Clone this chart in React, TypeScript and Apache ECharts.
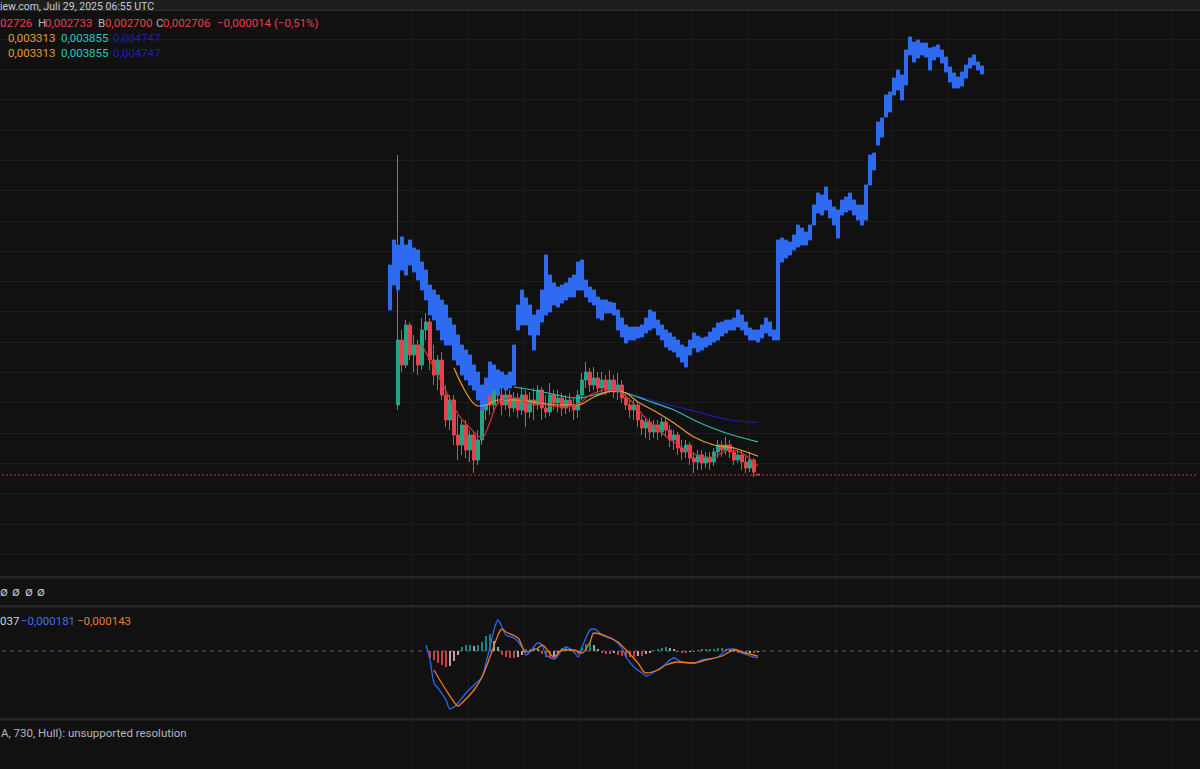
import React, { useEffect, useRef } from "react";
import * as echarts from "echarts";

// ---------- time slots (category axis) ----------
const slotCount = 300;
const slotLabels = Array.from({ length: slotCount }, (_, i) => `T${i}`);
const gridSlots = [103, 117, 131, 145, 159, 173, 187, 209, 223, 237, 251, 265, 279, 293];

// ---------- main symbol candles (log price scale) ----------
const candleStart = 99;
const candleOpen = [
  0.005724, 0.01147, 0.00878, 0.01347, 0.00977, 0.01088, 0.00878, 0.01277, 0.01391, 0.00926,
  0.007889, 0.00926, 0.00637, 0.004875, 0.006038, 0.004152, 0.00373, 0.004621, 0.003536, 0.004152,
  0.003177, 0.003935, 0.005425, 0.00637, 0.005724, 0.007889, 0.00637, 0.005724, 0.00637, 0.005543,
  0.006169, 0.005425, 0.00637, 0.00531, 0.006038, 0.005724, 0.00672, 0.005543, 0.00531, 0.00637,
  0.005848, 0.006169, 0.005543, 0.006038, 0.005724, 0.005425, 0.00637, 0.007479, 0.00815, 0.007089,
  0.00764, 0.006865, 0.007479, 0.00672, 0.007479, 0.006577, 0.007089, 0.006169, 0.005724, 0.005425,
  0.005724, 0.004875, 0.004474, 0.004771, 0.004287, 0.004621, 0.004287, 0.004771, 0.00438, 0.003935,
  0.004152, 0.003613, 0.003462, 0.00373, 0.003246, 0.00311, 0.003352, 0.003077, 0.003281, 0.00311,
  0.003462, 0.00373, 0.003536, 0.00373, 0.003462, 0.003177, 0.003352, 0.00311, 0.002917, 0.003177, 0.002726,
];
const candleClose = [
  0.01147, 0.00878, 0.01347, 0.00977, 0.01088, 0.00878, 0.01277, 0.01391, 0.00926, 0.007889,
  0.00926, 0.00637, 0.004875, 0.006038, 0.004152, 0.00373, 0.004621, 0.003536, 0.004152, 0.003177,
  0.003935, 0.005425, 0.00637, 0.005724, 0.007889, 0.00637, 0.005724, 0.00637, 0.005543, 0.006169,
  0.005425, 0.00637, 0.00531, 0.006038, 0.005724, 0.00672, 0.005543, 0.00531, 0.00637, 0.005848,
  0.006169, 0.005543, 0.006038, 0.005724, 0.005425, 0.00637, 0.007479, 0.00815, 0.007089, 0.00764,
  0.006865, 0.007479, 0.00672, 0.007479, 0.006577, 0.007089, 0.006169, 0.005724, 0.005425, 0.005724,
  0.004875, 0.004474, 0.004771, 0.004287, 0.004621, 0.004287, 0.004771, 0.00438, 0.003935, 0.004152,
  0.003613, 0.003462, 0.00373, 0.003246, 0.00311, 0.003352, 0.003077, 0.003281, 0.00311, 0.003462,
  0.00373, 0.003536, 0.00373, 0.003462, 0.003177, 0.003352, 0.00311, 0.002917, 0.003177, 0.002794, 0.002706,
];
const candleLow = [
  0.005425, 0.00815, 0.0085, 0.00926, 0.00815, 0.007889, 0.00832, 0.01147, 0.00832, 0.007089,
  0.00672, 0.006038, 0.004524, 0.00438, 0.00373, 0.003177, 0.003352, 0.003246, 0.00311, 0.002765,
  0.003012, 0.00373, 0.004875, 0.005143, 0.005425, 0.005724, 0.005143, 0.005425, 0.005035, 0.00531,
  0.00498, 0.005143, 0.004524, 0.00498, 0.004875, 0.005425, 0.004875, 0.00498, 0.005088, 0.005425,
  0.00531, 0.005088, 0.005198, 0.00531, 0.004875, 0.00498, 0.006038, 0.006865, 0.006577, 0.00672,
  0.006508, 0.006577, 0.00637, 0.006508, 0.006169, 0.006038, 0.005848, 0.005425, 0.00498, 0.004875,
  0.004524, 0.004152, 0.004021, 0.003935, 0.004021, 0.003935, 0.004064, 0.004064, 0.003651, 0.003536,
  0.003352, 0.003177, 0.003246, 0.003012, 0.002765, 0.002855, 0.002855, 0.002917, 0.002855, 0.00298,
  0.003246, 0.003281, 0.003352, 0.003246, 0.003012, 0.003077, 0.002855, 0.002765, 0.002794, 0.002649, 0.0027,
];
const candleHigh = [
  0.08305, 0.01277, 0.01421, 0.01391, 0.0121, 0.01147, 0.01452, 0.01532, 0.01452, 0.01088,
  0.00977, 0.01009, 0.007089, 0.00637, 0.00637, 0.005143, 0.004875, 0.004875, 0.00438, 0.004287,
  0.00438, 0.005724, 0.007089, 0.007479, 0.0086, 0.00832, 0.006865, 0.007089, 0.00672, 0.006577,
  0.006508, 0.00694, 0.00672, 0.006577, 0.006865, 0.007089, 0.00694, 0.00637, 0.007242, 0.00672,
  0.00672, 0.006508, 0.00637, 0.006508, 0.006169, 0.00672, 0.00806, 0.00907, 0.0085, 0.0086,
  0.00815, 0.00815, 0.007889, 0.00832, 0.007889, 0.00806, 0.007479, 0.006508, 0.006169, 0.006038,
  0.00591, 0.005143, 0.00498, 0.00498, 0.004875, 0.004875, 0.005035, 0.00498, 0.004621, 0.00438,
  0.004287, 0.003935, 0.003935, 0.003852, 0.003462, 0.003536, 0.003536, 0.003462, 0.003462, 0.003613,
  0.003935, 0.003894, 0.004064, 0.003935, 0.003651, 0.003536, 0.003536, 0.003352, 0.003462, 0.003246, 0.002733,
];
const lastClose = 0.002706;

// ---------- moving averages [slot, price] ----------
const maRed = [
  [105, 0.01088], [108, 0.0085], [111, 0.00665], [114, 0.005198], [117, 0.004474], [120, 0.004021],
  [122, 0.004771], [124, 0.005848], [128, 0.006169], [132, 0.005848], [136, 0.005724], [140, 0.005604],
  [144, 0.005786], [147, 0.00637], [151, 0.00672], [154, 0.00665], [158, 0.005786], [161, 0.004929],
  [165, 0.004242], [169, 0.00373], [173, 0.003388], [177, 0.003246], [182, 0.003536], [185, 0.003425],
  [189, 0.00298],
];
const maOrange = [
  [113, 0.0085], [119, 0.005663], [121, 0.005724], [124, 0.006038], [129, 0.006038], [134, 0.005848],
  [139, 0.005724], [144, 0.005724], [148, 0.006236], [153, 0.00665], [156, 0.006508], [159, 0.00591],
  [164, 0.005255], [168, 0.004722], [173, 0.004064], [178, 0.00373], [183, 0.003613], [189, 0.003313],
];
const maTeal = [
  [128, 0.00694], [134, 0.00665], [141, 0.006236], [144, 0.006169], [148, 0.00637], [153, 0.00665],
  [156, 0.006508], [161, 0.006038], [168, 0.005425], [174, 0.004771], [181, 0.004242], [189, 0.003855],
];
const maNavy = [
  [156, 0.006508], [165, 0.005848], [174, 0.00531], [182, 0.004875], [189, 0.004747],
];

// ---------- comparison symbol (blue), own scale ----------
const blueStart = 97;
const blueLow = [
  0.534, 0.584, 0.574, 0.614, 0.604, 0.624, 0.61, 0.594, 0.574, 0.554,
  0.524, 0.514, 0.494, 0.474, 0.464, 0.464, 0.434, 0.424, 0.404, 0.394,
  0.384, 0.374, 0.354, 0.334, 0.344, 0.364, 0.374, 0.364, 0.378, 0.374,
  0.378, 0.384, 0.494, 0.504, 0.504, 0.484, 0.454, 0.484, 0.51, 0.524,
  0.53, 0.544, 0.54, 0.548, 0.554, 0.56, 0.56, 0.574, 0.574, 0.56,
  0.55, 0.544, 0.518, 0.514, 0.528, 0.528, 0.524, 0.494, 0.48, 0.468,
  0.474, 0.474, 0.478, 0.48, 0.488, 0.494, 0.498, 0.484, 0.474, 0.46,
  0.454, 0.45, 0.44, 0.43, 0.42, 0.444, 0.458, 0.45, 0.454, 0.46,
  0.464, 0.47, 0.474, 0.482, 0.488, 0.494, 0.494, 0.5, 0.494, 0.484,
  0.474, 0.474, 0.47, 0.478, 0.488, 0.482, 0.474, 0.474, 0.63, 0.638,
  0.644, 0.654, 0.66, 0.664, 0.664, 0.674, 0.704, 0.728, 0.724, 0.734,
  0.718, 0.704, 0.678, 0.724, 0.73, 0.734, 0.724, 0.714, 0.704, 0.714,
  0.784, 0.814, 0.864, 0.88, 0.92, 0.93, 0.964, 0.974, 0.954, 0.984,
  1.044, 1.03, 1.038, 1.044, 1.04, 1.014, 1.034, 1.04, 1.028, 1.01,
  0.99, 0.978, 0.978, 0.982, 0.998, 1.018, 1.024, 1.014, 1.006,
];
const blueHigh = [
  0.624, 0.674, 0.664, 0.68, 0.664, 0.674, 0.658, 0.654, 0.63, 0.614,
  0.584, 0.574, 0.564, 0.554, 0.544, 0.518, 0.504, 0.484, 0.464, 0.454,
  0.444, 0.424, 0.41, 0.384, 0.398, 0.43, 0.424, 0.414, 0.41, 0.404,
  0.41, 0.464, 0.544, 0.574, 0.558, 0.544, 0.524, 0.534, 0.574, 0.644,
  0.604, 0.588, 0.58, 0.584, 0.588, 0.598, 0.604, 0.63, 0.634, 0.594,
  0.58, 0.574, 0.56, 0.554, 0.554, 0.55, 0.548, 0.534, 0.518, 0.504,
  0.5, 0.5, 0.5, 0.504, 0.518, 0.534, 0.53, 0.514, 0.504, 0.494,
  0.488, 0.48, 0.474, 0.464, 0.46, 0.474, 0.488, 0.482, 0.478, 0.48,
  0.49, 0.498, 0.508, 0.51, 0.514, 0.514, 0.518, 0.534, 0.524, 0.51,
  0.498, 0.494, 0.494, 0.504, 0.518, 0.51, 0.494, 0.674, 0.678, 0.674,
  0.67, 0.684, 0.704, 0.698, 0.69, 0.704, 0.744, 0.768, 0.764, 0.78,
  0.754, 0.74, 0.734, 0.754, 0.76, 0.768, 0.754, 0.744, 0.744, 0.784,
  0.844, 0.848, 0.91, 0.918, 0.964, 0.97, 0.998, 1.014, 1.004, 1.054,
  1.08, 1.07, 1.074, 1.068, 1.068, 1.058, 1.06, 1.064, 1.054, 1.04,
  1.02, 1.008, 1.0, 1.01, 1.024, 1.038, 1.044, 1.03, 1.022,
];

// ---------- MACD pane ----------
const macdLine = [
  [106, 0.000167], [107, -0.00025], [108, -0.00089], [109, -0.001029], [111, -0.001362], [112, -0.001612],
  [113, -0.001557], [114, -0.001446], [116, -0.001168], [118, -0.000945], [120, -0.000723], [121, -0.000334],
  [122, 0.000111], [123, 0.000584], [124, 0.000862], [125, 0.000667], [126, 0.000445], [128, 0.000361],
  [130, 0.000111], [131, -0.000111], [132, -0.000028], [134, 0.000222], [135, 0.000167], [136, -0.000111],
  [138, -0.000222], [140, 0.000028], [141, 0.000111], [143, -0.000028], [144, -0.000167], [145, 0.000111],
  [147, 0.000584], [148, 0.000612], [150, 0.000445], [151, 0.000389], [153, 0.000306], [155, 0.000083],
  [156, -0.000167], [158, -0.000445], [160, -0.000612], [161, -0.000695], [163, -0.000584], [165, -0.000445],
  [168, -0.000195], [170, -0.000306], [173, -0.000334], [175, -0.00025], [179, -0.000167], [181, 0.000028],
  [183, 0.000056], [185, -0.000056], [188, -0.000167], [189, -0.000181],
];
const signalLine = [
  [108, -0.000528], [109, -0.000723], [111, -0.001084], [113, -0.001418], [114, -0.001529], [115, -0.001446],
  [118, -0.001084], [120, -0.000723], [122, -0.000167], [124, 0.000445], [125, 0.000612], [126, 0.000528],
  [129, 0.000361], [131, -0.000028], [134, 0.000083], [135, 0.000167], [138, -0.000167], [140, 0.000028],
  [143, 0.000028], [145, -0.000056], [147, 0.00025], [148, 0.0005], [151, 0.000417], [154, 0.00025],
  [156, 0.000028], [159, -0.000334], [161, -0.000612], [164, -0.000528], [166, -0.000389], [169, -0.000306],
  [173, -0.000334], [176, -0.00025], [180, -0.000139], [183, 0.000028], [186, -0.000056], [189, -0.000143],
];
const histStart = 107;
const histValues = [
  -0.000195, -0.00025, -0.000334, -0.000389, -0.000445, -0.000417, -0.000278, -0.000111, 0.000111, 0.000167,
  0.000167, 0.000139, 0.000167, 0.00025, 0.000417, 0.000473, 0.000278, 0.000111, -0.000111, -0.000167,
  -0.000195, -0.000195, -0.000167, -0.000111, 0.000056, 0.000056, 0.000083, 0.000056, -0.000083, -0.000167,
  -0.000195, -0.000139, -0.000056, 0.000083, 0.000111, 0.000056, -0.000056, -0.000083, 0.000083, 0.000195,
  0.00025, 0.000167, 0.000056, -0.000056, -0.000083, -0.000083, -0.000056, -0.000111, -0.000139, -0.000167,
  -0.000167, -0.000167, -0.000139, -0.000139, -0.000083, -0.000056, 0.000028, 0.000056, 0.000083, 0.000111,
  0.000083, 0.000056, -0.000028, -0.000056, -0.000056, -0.000028, -0.000028, 0.000028, 0.000056, 0.000056,
  0.000056, 0.000056, 0.000083, 0.000083, 0.000056, 0.000028, -0.000028, -0.000056, -0.000083, -0.000083,
  -0.000056, -0.000056, -0.000037,
];

const FONT = "Roboto, Inter, sans-serif";

function txt(text: string, x: number, y: number, fill: string, size = 11.5) {
  return {
    type: "text",
    x,
    y,
    z: 100,
    silent: true,
    style: { text, fill, font: `${size}px ${FONT}`, textVerticalAlign: "middle", verticalAlign: "middle" },
  };
}

export default function App() {
  const ref = useRef<HTMLDivElement>(null);

  useEffect(() => {
    if (!ref.current) return;
    const chart = echarts.init(ref.current, undefined, { renderer: "svg" });

    const candleData = candleOpen.map((o, k) => [candleStart + k, o, candleClose[k], candleLow[k], candleHigh[k]]);
    const blueData = blueLow.map((lo, k) => [blueStart + k, lo, blueHigh[k], lo, blueHigh[k]]);
    const histData = histValues.map((v, k) => [histStart + k, v]);
    // price line and zero line spanning the whole time range
    const priceLineData = [[0, lastClose], [slotCount - 1, lastClose]];
    const zeroLineData = [[0, 0], [slotCount - 1, 0]];

    const RED = "#e5414f";
    const GREEN = "#22a385";
    const BLUE = "#2e6af2";
    const gridLineColor = "#1d1d1d";

    const hiddenCat = (gridIndex: number) => ({
      type: "category",
      gridIndex,
      data: slotLabels,
      boundaryGap: true,
      show: false,
    });

    const option: any = {
      animation: false,
      backgroundColor: "#111111",
      grid: [
        { left: 0, right: 0, top: 11, height: 566 },
        { left: 0, right: 0, top: 39, height: 515.1 },
        { left: 0, right: 0, top: 608, height: 111 },
        { left: 0, right: 0, top: 11, bottom: 0 },
      ],
      xAxis: [
        hiddenCat(0),
        hiddenCat(1),
        hiddenCat(2),
        {
          type: "category",
          gridIndex: 3,
          data: slotLabels,
          boundaryGap: true,
          show: true,
          axisLine: { show: false },
          axisTick: { show: false },
          axisLabel: { show: false },
          splitLine: {
            show: true,
            interval: (index: number) => gridSlots.indexOf(index) >= 0,
            lineStyle: { color: gridLineColor, width: 1 },
          },
        },
      ],
      yAxis: [
        { type: "log", gridIndex: 0, min: 0.0009085, max: 0.3878, show: false },
        { type: "value", gridIndex: 0, min: 0, max: 1.132, show: false },
        {
          type: "value",
          gridIndex: 1,
          min: 0,
          max: 17,
          interval: 1,
          show: true,
          axisLine: { show: false },
          axisTick: { show: false },
          axisLabel: { show: false },
          splitLine: { show: true, lineStyle: { color: gridLineColor, width: 1 } },
        },
        {
          type: "value",
          gridIndex: 2,
          min: -0.00189,
          max: 0.001195,
          show: true,
          axisLine: { show: false },
          axisTick: { show: false },
          axisLabel: { show: false },
          splitLine: { show: false },
        },
        { type: "value", gridIndex: 3, min: 0, max: 1, show: false },
      ],
      graphic: [
        { type: "rect", z: 90, silent: true, shape: { x: 0, y: 0, width: 1200, height: 10 }, style: { fill: "#1e1e1e" } },
        { type: "rect", z: 90, silent: true, shape: { x: 0, y: 9.5, width: 1200, height: 1.5 }, style: { fill: "#2c2c2c" } },
        { type: "rect", z: 90, silent: true, shape: { x: 0, y: 576, width: 1200, height: 2.5 }, style: { fill: "#262626" } },
        { type: "rect", z: 90, silent: true, shape: { x: 0, y: 605, width: 1200, height: 2.5 }, style: { fill: "#262626" } },
        { type: "rect", z: 90, silent: true, shape: { x: 0, y: 718, width: 1200, height: 2.5 }, style: { fill: "#262626" } },
        txt("iew.com, Juli 29, 2025 06:55 UTC", 0, 6, "#c9cbd1", 10.5),
        txt("02726", 0, 23, RED),
        txt("H", 38, 23, "#b2b5be"),
        txt("0,002733", 45, 23, RED),
        txt("B", 98, 23, "#b2b5be"),
        txt("0,002700", 105, 23, RED),
        txt("C", 156, 23, "#b2b5be"),
        txt("0,002706", 163, 23, RED),
        txt("\u22120,000014 (\u22120,51%)", 217, 23, RED),
        txt("0,003313", 8, 38, "#e8992b"),
        txt("0,003855", 61, 38, "#26c9c4"),
        txt("0,004747", 113, 38, "#2020b0"),
        txt("0,003313", 8, 53, "#e8992b"),
        txt("0,003855", 61, 53, "#26c9c4"),
        txt("0,004747", 113, 53, "#2020b0"),
        txt("\u2205", 0, 592, "#c9cbd1"),
        txt("\u2205", 12, 592, "#c9cbd1"),
        txt("\u2205", 25, 592, "#c9cbd1"),
        txt("\u2205", 37, 592, "#c9cbd1"),
        txt("037", 0, 621, "#d1d4dc"),
        txt("\u22120,000181", 21, 621, "#3f6df5"),
        txt("\u22120,000143", 77, 621, "#f0782a"),
        txt("A, 730, Hull): unsupported resolution", 1, 733, "#b2b5be"),
      ],
      series: [
        {
          type: "line",
          name: "Last price",
          xAxisIndex: 0,
          yAxisIndex: 0,
          z: 1,
          data: priceLineData,
          showSymbol: false,
          silent: true,
          lineStyle: { color: "#c8323f", type: [2, 2], width: 1 },
        },
        {
          type: "candlestick",
          name: "Price",
          xAxisIndex: 0,
          yAxisIndex: 0,
          z: 2,
          barWidth: 3,
          encode: { x: 0, y: [1, 2, 3, 4] },
          data: candleData,
          itemStyle: { color: GREEN, color0: RED, borderColor: GREEN, borderColor0: RED, borderWidth: 1 },
        },
        {
          type: "candlestick",
          name: "Compare",
          xAxisIndex: 0,
          yAxisIndex: 1,
          z: 3,
          barWidth: 4,
          encode: { x: 0, y: [1, 2, 3, 4] },
          data: blueData,
          itemStyle: { color: BLUE, color0: BLUE, borderColor: BLUE, borderColor0: BLUE, borderWidth: 1 },
        },
        ...[
          { d: maNavy, c: "#1e1eb0" },
          { d: maTeal, c: "#2bbfae" },
          { d: maOrange, c: "#ef9a2a" },
          { d: maRed, c: "#d8323c" },
        ].map((m) => ({
          type: "line",
          xAxisIndex: 0,
          yAxisIndex: 0,
          z: 4,
          data: m.d,
          showSymbol: false,
          smooth: 0.3,
          lineStyle: { color: m.c, width: 1.2 },
        })),
        {
          type: "line",
          name: "Zero",
          xAxisIndex: 2,
          yAxisIndex: 3,
          z: 1,
          data: zeroLineData,
          showSymbol: false,
          silent: true,
          lineStyle: { color: "#5c5c5c", type: [4, 4], width: 1 },
        },
        {
          type: "bar",
          name: "Histogram",
          xAxisIndex: 2,
          yAxisIndex: 3,
          barWidth: 2,
          data: histData,
          itemStyle: {
            opacity: 0.75,
            color: (p: any) => {
              const k = p.dataIndex;
              const v = histValues[k];
              const prev = k > 0 ? histValues[k - 1] : v;
              if (v >= 0) return v >= prev ? "#26a69a" : "#b2dfdb";
              return v <= prev ? "#ff5252" : "#ffcdd2";
            },
          },
        },
        {
          type: "line",
          name: "MACD",
          xAxisIndex: 2,
          yAxisIndex: 3,
          data: macdLine,
          showSymbol: false,
          smooth: 0.3,
          lineStyle: { color: "#2f66f0", width: 1.3 },
        },
        {
          type: "line",
          name: "Signal",
          xAxisIndex: 2,
          yAxisIndex: 3,
          data: signalLine,
          showSymbol: false,
          smooth: 0.3,
          lineStyle: { color: "#f07a22", width: 1.3 },
        },
      ],
    };

    chart.setOption(option);
    return () => chart.dispose();
  }, []);

  return (
    <div
      ref={ref}
      style={{ position: "fixed", left: 0, top: 0, width: 1200, height: 769, background: "#111111" }}
    />
  );
}
